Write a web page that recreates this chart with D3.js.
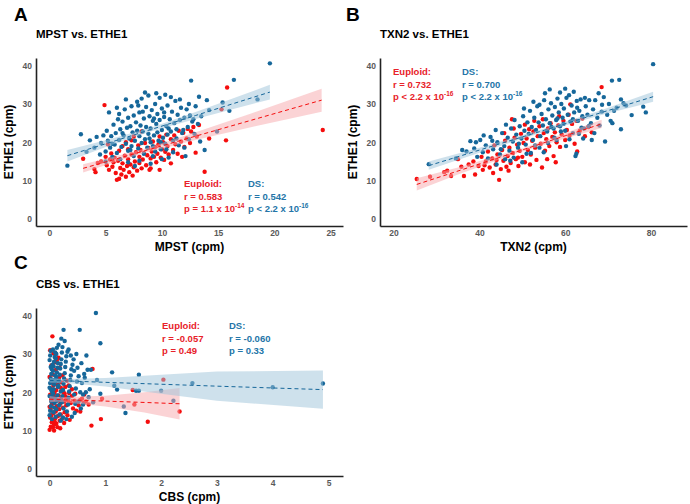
<!DOCTYPE html>
<html>
<head>
<meta charset="utf-8">
<script src="https://cdn.jsdelivr.net/npm/d3@7"></script>
<style>
  body { margin: 0; background: #fff; }
  svg text { font-family: "Liberation Sans", Arial, sans-serif; font-weight: 700; }
</style>
</head>
<body>
<div id="chart"></div>
<script>
// Data: [x, ETHE1] pairs per group
var mpstEuploid = [[3.0,15.7],[4.0,13.0],[4.1,12.2],[4.3,14.6],[4.6,15.0],[4.9,29.7],[5.0,16.2],[5.1,14.0],[5.3,12.8],[5.4,15.5],
  [5.5,17.1],[5.6,13.6],[5.7,14.8],[5.8,16.0],[5.9,12.0],[6.0,10.2],[6.1,15.2],[6.2,10.5],[6.2,17.8],[6.3,13.3],
  [6.4,11.6],[6.5,14.5],[6.5,19.0],[6.6,12.8],[6.7,16.5],[6.8,11.0],[6.9,13.8],[7.0,15.6],[7.0,18.2],[7.1,12.2],
  [7.2,14.2],[7.3,16.8],[7.3,20.5],[7.4,11.3],[7.5,13.5],[7.6,15.0],[7.7,17.4],[7.8,12.6],[7.9,19.2],[8.0,14.6],
  [8.0,16.2],[8.1,18.0],[8.2,13.2],[8.3,15.5],[8.4,17.2],[8.5,19.8],[8.6,14.0],[8.7,16.6],[8.8,18.5],[8.9,12.8],
  [9.0,13.2],[9.0,15.8],[9.1,17.6],[9.2,20.2],[9.3,16.2],[9.4,18.8],[9.5,14.8],[9.6,17.0],[9.7,19.5],[9.8,21.5],
  [9.9,16.0],[10.0,18.2],[10.1,20.0],[10.2,15.4],[10.3,17.5],[10.4,22.0],[10.5,19.0],[10.6,16.8],[10.8,20.8],[11.0,18.0],
  [11.1,21.8],[11.2,19.5],[11.4,17.0],[11.5,23.0],[11.7,20.2],[11.9,22.5],[12.0,18.8],[12.2,21.0],[12.3,23.5],[12.5,19.8],
  [12.6,22.8],[12.8,24.0],[13.0,17.3],[13.1,21.5],[13.3,24.5],[13.8,12.3],[14.2,21.0],[15.3,28.6],[15.7,20.5],[15.8,34.3],
  [24.3,23.2],[7.5,21.5],[8.2,22.8],[6.8,20.0],[9.8,12.8],[5.2,19.5],[10.8,14.5],[11.8,16.2]];

var mpstDS = [[1.6,13.9],[2.8,22.1],[3.3,17.5],[3.6,20.5],[4.0,18.6],[4.2,21.4],[4.5,16.8],[4.6,19.8],[4.8,21.8],[5.0,17.6],
  [5.1,23.0],[5.2,20.4],[5.3,27.8],[5.4,18.6],[5.5,21.6],[5.6,16.2],[5.7,24.6],[5.8,19.4],[5.9,22.4],[6.0,17.2],
  [6.1,26.0],[6.2,20.6],[6.3,23.4],[6.3,15.6],[6.4,18.8],[6.5,25.4],[6.6,21.8],[6.7,28.6],[6.8,19.6],[6.9,23.8],
  [7.0,17.8],[7.0,26.4],[7.1,21.0],[7.2,24.2],[7.3,29.4],[7.3,19.0],[7.4,22.6],[7.5,27.0],[7.5,16.4],[7.6,20.4],
  [7.7,25.2],[7.8,23.0],[7.8,30.6],[7.9,18.4],[8.0,21.6],[8.0,27.8],[8.1,24.4],[8.2,19.8],[8.2,31.4],[8.3,22.8],
  [8.4,26.2],[8.4,17.0],[8.5,20.8],[8.6,29.2],[8.6,24.0],[8.7,18.6],[8.8,22.2],[8.8,32.2],[8.9,26.8],[9.0,20.0],
  [9.0,23.6],[9.1,28.4],[9.2,19.0],[9.2,25.6],[9.3,21.8],[9.4,30.0],[9.4,17.6],[9.5,24.8],[9.6,22.6],[9.6,27.4],
  [9.7,20.4],[9.8,31.6],[9.8,25.8],[9.9,18.2],[10.0,23.2],[10.0,28.8],[10.1,21.2],[10.2,26.6],[10.3,19.6],[10.3,32.4],
  [10.4,24.2],[10.5,29.6],[10.5,22.0],[10.6,16.0],[10.7,26.0],[10.8,22.8],[10.9,28.0],[11.0,20.4],[11.1,25.0],[11.2,30.8],
  [11.3,23.4],[11.4,27.2],[11.5,19.2],[11.6,25.8],[11.7,29.0],[11.8,22.4],[12.0,26.4],[12.1,16.4],[12.2,28.6],[12.3,24.0],
  [12.4,20.8],[12.5,27.0],[12.6,36.1],[12.7,25.4],[12.9,22.2],[13.0,29.4],[13.3,31.9],[13.4,20.2],[13.5,26.8],[14.0,31.0],
  [14.2,28.4],[14.9,22.8],[15.4,30.4],[16.0,28.2],[16.4,36.3],[18.5,31.2],[19.6,40.6],[6.0,29.0],[7.0,14.8],[8.0,15.2],
  [9.0,14.4],[10.0,15.6],[11.0,17.4],[7.6,13.8],[5.0,15.0],[8.5,33.0],[9.5,32.8],[10.8,31.8],[6.8,31.2],[13.8,18.0],
  [12.0,18.6],[11.3,21.0],[10.4,18.2],[9.2,16.4],[7.2,18.0],[6.5,22.4],[5.6,19.6],[8.9,21.0],[9.9,20.0],[10.6,23.6],
  [11.9,23.2],[12.8,26.0],[13.2,24.8],[6.2,27.4],[7.9,29.6],[8.3,28.0],[9.3,26.2],[10.2,27.8],[11.6,31.2],[12.4,30.0]];

var txn2Euploid = [[25.4,10.4],[28.5,11.0],[31.8,12.2],[32.5,12.6],[33.4,11.2],[35.0,15.6],[35.8,13.6],[36.4,11.2],[37.5,14.2],[38.6,15.0],
  [39.0,11.6],[39.8,13.8],[40.5,16.2],[40.8,12.8],[41.5,15.0],[42.0,17.6],[42.4,13.4],[43.0,15.8],[43.5,19.2],[43.8,14.2],
  [44.2,16.8],[44.6,10.2],[45.0,13.0],[45.3,18.0],[45.6,15.2],[46.0,20.4],[46.3,13.6],[46.6,16.4],[47.0,18.6],[47.3,14.6],
  [47.6,26.0],[47.8,17.2],[48.2,21.2],[48.5,15.6],[48.8,19.4],[49.1,13.8],[49.4,17.8],[49.7,22.2],[50.0,16.2],[50.3,19.8],
  [50.6,14.8],[51.0,21.0],[51.3,18.0],[51.6,23.4],[52.0,16.8],[52.3,20.4],[52.6,22.8],[53.0,18.6],[53.3,15.4],[53.6,21.6],
  [54.0,24.2],[54.3,19.6],[54.6,13.4],[55.0,22.4],[55.3,17.8],[55.6,20.8],[56.0,23.6],[56.3,19.0],[56.6,25.0],[57.0,21.4],
  [57.3,16.4],[57.6,22.6],[58.0,20.0],[58.4,24.4],[58.8,18.8],[59.2,22.0],[59.6,25.6],[60.0,20.6],[60.4,23.2],[61.2,29.9],
  [61.0,21.8],[61.6,24.8],[62.2,19.6],[62.8,17.6],[63.4,23.0],[64.0,26.2],[64.6,21.6],[65.4,24.0],[66.2,22.6],[68.5,34.4],
  [44.0,15.4],[46.8,12.6],[49.0,16.0],[51.8,14.2],[55.8,15.6],[57.8,14.8],[52.8,25.6],[58.6,26.8],[48.0,23.6],[45.8,22.4],
  [43.2,12.0],[41.2,14.0],[50.6,24.6],[54.8,26.0],[60.8,27.2],[62.6,25.6]];

var txn2DS = [[28.2,14.3],[34.5,15.8],[37.0,17.6],[37.9,20.3],[38.8,18.4],[39.5,16.2],[40.2,20.6],[40.8,17.4],[41.5,19.2],[42.0,15.8],
  [42.6,21.4],[43.2,18.2],[43.8,23.2],[44.2,20.0],[44.8,16.8],[45.3,22.4],[45.8,19.0],[46.2,24.6],[46.6,21.2],[47.0,17.8],
  [47.4,23.6],[47.8,20.2],[48.2,25.8],[48.6,22.0],[49.0,18.6],[49.4,24.2],[49.8,21.0],[50.2,26.8],[50.5,23.0],[50.8,19.4],
  [51.2,25.2],[51.5,22.2],[51.8,28.2],[52.2,24.0],[52.5,20.6],[52.8,26.4],[53.2,23.2],[53.5,29.4],[53.8,25.2],[54.2,21.6],
  [54.5,27.4],[54.8,24.4],[55.1,31.0],[55.3,32.8],[55.5,26.0],[55.8,22.8],[56.1,28.6],[56.4,25.0],[56.7,30.2],[57.0,27.0],
  [57.3,23.6],[57.6,29.2],[57.9,25.8],[58.2,31.4],[58.5,27.8],[58.8,24.2],[59.1,30.0],[59.4,26.4],[59.7,28.8],[60.0,23.0],
  [60.3,31.6],[60.6,27.2],[60.9,32.3],[61.2,25.4],[61.5,29.6],[61.8,22.4],[62.1,27.8],[62.4,16.4],[62.7,30.8],[63.0,25.6],
  [63.3,28.2],[63.6,31.2],[64.0,26.8],[64.4,23.6],[64.8,29.4],[65.2,27.2],[65.6,31.0],[66.0,25.0],[66.5,28.6],[67.0,31.0],
  [67.5,26.4],[68.0,24.4],[68.5,28.0],[69.3,20.2],[69.8,27.2],[70.2,30.0],[70.6,25.6],[70.9,36.1],[71.4,28.2],[72.0,29.0],
  [72.6,36.3],[73.0,23.4],[73.6,30.2],[74.2,29.6],[75.5,27.1],[78.2,29.3],[78.8,27.8],[80.5,40.4],[44.0,14.2],[46.0,15.6],
  [48.0,16.0],[50.0,14.8],[52.0,17.2],[54.0,18.6],[56.0,19.8],[58.0,20.6],[60.2,19.0],[62.6,17.0],[64.2,21.0],[66.8,22.4],
  [55.0,17.4],[57.5,21.2],[59.0,22.8],[61.0,20.8],[63.8,23.8],[65.5,24.2],[53.0,19.2],[51.0,17.0],[49.2,19.6],[47.2,15.2],
  [43.0,20.4],[45.0,18.2],[41.0,21.8],[39.2,20.0],[36.0,18.0],[58.8,33.0],[62.0,33.2],[56.4,33.8],[60.0,34.0],[64.6,31.6],
  [67.8,32.8],[69.0,31.8],[71.0,25.0],[66.2,20.6],[68.6,29.8],[73.0,31.2],[62.8,29.0],[58.2,26.2],[54.0,29.8],[50.4,28.8],
  [52.6,30.6],[56.8,24.0],[59.6,24.8],[61.8,26.0],[63.2,22.2]];

var cbsEuploid = [[0.05,34.6],[0.77,26.1],[2.04,23.3],[1.49,20.6],[1.52,16.8],[0.94,18.3],[0.92,13.0],[0.75,11.3],[1.76,12.3],[2.33,15.0],
  [0.40,19.0],[0.61,17.2],[0.58,18.3],[0.0,10.2],[0.02,11.0],[0.04,12.2],[0.01,13.4],[0.03,14.0],[0.06,10.8],[0.08,11.6],
  [0.05,12.8],[0.10,13.2],[0.07,14.6],[0.02,15.4],[0.12,11.8],[0.09,12.4],[0.14,10.9],[0.0,16.2],[0.04,16.8],[0.06,17.4],
  [0.11,15.0],[0.15,13.8],[0.18,12.6],[0.03,18.2],[0.08,18.8],[0.13,16.4],[0.17,15.6],[0.20,14.2],[0.22,13.0],[0.01,19.4],
  [0.05,20.2],[0.09,19.8],[0.14,18.0],[0.19,17.0],[0.24,16.0],[0.27,14.8],[0.02,21.0],[0.07,21.8],[0.12,20.6],[0.16,19.2],
  [0.21,18.4],[0.26,17.6],[0.30,16.6],[0.04,22.6],[0.10,23.0],[0.15,22.0],[0.20,21.2],[0.25,20.0],[0.29,18.8],[0.33,17.8],
  [0.0,24.0],[0.06,24.6],[0.11,25.8],[0.17,23.8],[0.22,22.6],[0.28,21.4],[0.35,19.8],[0.38,17.2],[0.42,15.8],[0.45,17.8],
  [0.48,15.2],[0.52,16.6],[0.55,15.0],[0.65,17.6],[0.70,16.8],[0.32,14.0],[0.36,12.8],[0.26,12.0],[0.19,10.6],[0.08,10.0],
  [0.03,27.0],[0.13,28.4],[0.07,30.2],[0.18,26.4],[0.23,24.4],[0.31,23.0],[0.40,20.8],[0.46,19.6],[0.55,18.0],[0.62,19.4],
  [0.16,29.0],[0.01,31.0],[0.09,27.8],[0.27,19.6],[0.34,21.8]];

var cbsDS = [[0.83,40.7],[0.25,36.3],[0.54,36.3],[0.91,32.8],[0.48,30.0],[0.66,29.6],[0.68,25.9],[0.74,25.9],[1.12,25.2],[1.60,24.6],
  [0.85,23.2],[1.16,21.7],[1.21,20.7],[1.55,20.4],[1.60,20.4],[2.00,20.4],[2.56,22.4],[4.00,21.3],[4.90,22.3],[2.22,17.8],
  [1.33,16.3],[1.36,14.6],[0.91,19.6],[0.70,18.7],
  [0.0,14.0],[0.01,15.2],[0.02,16.4],[0.03,17.6],[0.04,18.8],[0.05,20.0],[0.0,21.2],[0.01,22.4],[0.02,23.6],[0.03,24.8],
  [0.04,26.0],[0.05,27.2],[0.0,28.4],[0.01,29.6],[0.02,30.8],[0.06,31.2],[0.07,14.8],[0.08,16.0],[0.09,17.2],[0.10,18.4],
  [0.06,19.6],[0.07,20.8],[0.08,22.0],[0.09,23.2],[0.10,24.4],[0.06,25.6],[0.07,26.8],[0.08,28.0],[0.09,29.2],[0.10,30.4],
  [0.11,13.6],[0.12,15.6],[0.13,17.8],[0.14,19.2],[0.15,21.4],[0.11,22.8],[0.12,24.0],[0.13,25.2],[0.14,26.4],[0.15,27.6],
  [0.11,28.8],[0.12,30.0],[0.13,31.6],[0.16,32.4],[0.18,14.2],[0.17,16.6],[0.19,18.0],[0.20,20.2],[0.16,21.8],[0.17,23.0],
  [0.18,24.6],[0.19,26.2],[0.20,27.4],[0.21,28.6],[0.22,30.4],[0.23,31.8],[0.24,13.4],[0.25,15.8],[0.22,17.4],[0.23,19.0],
  [0.24,20.6],[0.25,22.2],[0.26,23.6],[0.27,25.0],[0.28,26.6],[0.29,28.0],[0.30,29.4],[0.32,30.6],[0.31,15.0],[0.33,16.8],
  [0.34,18.6],[0.35,20.2],[0.36,21.6],[0.37,23.2],[0.38,24.4],[0.39,26.0],[0.41,27.2],[0.43,28.6],[0.45,14.6],[0.46,17.0],
  [0.44,19.4],[0.47,21.0],[0.49,22.8],[0.52,24.2],[0.55,20.0],[0.58,22.4],[0.60,19.4],[0.63,23.8],[0.52,17.6],[0.56,15.8],
  [0.60,16.8],[0.65,20.0],[0.72,20.8],[0.78,17.4],[0.40,13.6],[0.30,13.0],[0.20,12.6],[0.04,13.0],[0.0,19.0],[0.02,26.6],
  [0.34,31.2],[0.27,33.4],[0.21,34.0],[0.38,29.6],[0.44,25.6],[0.50,26.4],[0.57,27.6],[0.62,24.8],[0.03,20.6],[0.05,23.0]];

// Linear fits with 95% bands: [x, lower, fit, upper]
var fitMpstEuploid = [[3.0,12.1,13.2,14.3],[6,15.0,15.7,16.4],[8.5,17.2,17.8,18.4],[13,20.6,21.6,22.6],[18,24.0,25.8,27.6],[24.2,28.0,31.0,34.0]];
var fitMpstDS = [[1.6,15.0,16.5,18.0],[5,18.8,19.6,20.5],[9,22.8,23.3,23.8],[13,26.1,27.0,27.9],[19.6,31.2,33.1,35.0]];
var fitTxn2Euploid = [[25.4,7.4,9.0,10.6],[35,11.6,12.5,13.4],[50,17.6,18.0,18.4],[60,21.0,21.7,22.4],[68.5,23.7,24.8,25.9]];
var fitTxn2DS = [[28.2,12.8,13.9,15.0],[40,17.3,17.96,18.6],[56,23.05,23.45,23.85],[68,27.0,27.6,28.2],[80.5,30.6,31.9,33.2]];
var fitCbsEuploid = [[0,17.4,18.2,19.0],[0.15,17.5,18.1,18.7],[1,16.3,17.7,19.1],[1.7,14.7,17.35,20.0],[2.33,12.9,17.0,21.1]];
var fitCbsDS = [[0,22.5,23.1,23.7],[0.25,22.5,23.0,23.5],[1,21.5,22.6,23.7],[2,19.6,22.1,24.6],[3,17.8,21.6,25.4],[4.9,15.7,20.7,25.7]];

// Tick values and stats text
var yTicks = [0, 10, 20, 30, 40];
var mpstTicks = [0, 5, 10, 15, 20, 25];
var txn2Ticks = [20, 40, 60, 80];
var cbsTicks = [0, 1, 2, 3, 4, 5];
var statsEuploid = { A: ["r = 0.583", "p = 1.1 x 10", "-14"], B: ["r = 0.732", "p < 2.2 x 10", "-16"], C: ["r = -0.057", "p = 0.49", ""] };
var statsDS = { A: ["r = 0.542", "p < 2.2 x 10", "-16"], B: ["r = 0.700", "p < 2.2 x 10", "-16"], C: ["r = -0.060", "p = 0.33", ""] };

var red = "#f50d0d";
var blue = "#16679a";
var redText = "#e8222a";
var blueText = "#2475a8";

let svg = d3.select("#chart").append("svg")
  .attr("width", 690)
  .attr("height", 504);

function drawPanel(p) {
  let x = d3.scaleLinear().domain(p.xDomain).range([p.left, p.right]);
  let y = d3.scaleLinear().domain([-1.85, 42.0]).range([p.bottom, p.top]);
  let g = svg.append("g");

  // points, DS on top
  g.selectAll(".eu").data(p.eu).enter().append("circle")
    .attr("cx", d => x(d[0])).attr("cy", d => y(d[1])).attr("r", 2.2)
    .style("fill", red);
  g.selectAll(".ds").data(p.ds).enter().append("circle")
    .attr("cx", d => x(d[0])).attr("cy", d => y(d[1])).attr("r", 2.2)
    .style("fill", blue);

  // confidence bands and dashed fits
  [[p.fitEu, red, "#f7a8ab"], [p.fitDs, blue, "#9dc3da"]].forEach(function(f) {
    let area = d3.area().x(d => x(d[0])).y0(d => y(d[1])).y1(d => y(d[3]));
    g.append("path").attr("d", area(f[0]))
      .style("fill", f[2]).style("fill-opacity", 0.5);
    let line = d3.line().x(d => x(d[0])).y(d => y(d[2]));
    g.append("path").attr("d", line(f[0]))
      .style("fill", "none").style("stroke", f[1])
      .style("stroke-width", 1).style("stroke-dasharray", "4,3");
  });

  // axes
  let yAxis = d3.axisLeft(y).tickValues(yTicks).tickSize(0).tickPadding(4);
  let xAxis = d3.axisBottom(x).tickValues(p.xTicks).tickFormat(d3.format("d")).tickSize(0).tickPadding(4);
  let ya = g.append("g").attr("transform", "translate(" + p.left + ",0)").call(yAxis);
  let xa = g.append("g").attr("transform", "translate(0," + p.bottom + ")").call(xAxis);
  [ya, xa].forEach(function(a) {
    a.select(".domain").style("stroke", "#222").style("stroke-width", 1.6);
    a.selectAll("text").style("font-size", "8.5px").style("fill", "#5a5a5a")
      .style("font-family", "Liberation Sans, Arial, sans-serif").style("font-weight", 700);
  });

  // labels
  g.append("text").attr("x", p.letterX).attr("y", p.letterY).style("font-size", "19px").text(p.letter);
  g.append("text").attr("x", p.left).attr("y", p.titleY).style("font-size", "11.5px").text(p.title);
  g.append("text").attr("x", (p.left + p.right) / 2).attr("y", p.bottom + 25)
    .attr("text-anchor", "middle").style("font-size", "12px").text(p.xLabel);
  g.append("text")
    .attr("transform", "translate(" + (p.left - 23) + "," + ((p.top + p.bottom) / 2) + ") rotate(-90)")
    .attr("text-anchor", "middle").style("font-size", "12px").text("ETHE1 (cpm)");

  // stats
  [[statsEuploid[p.letter], "Euploid:", redText, p.statEuX], [statsDS[p.letter], "DS:", blueText, p.statDsX]].forEach(function(s) {
    let t = g.append("g").style("fill", s[2]).style("font-size", "9.5px");
    t.append("text").attr("x", s[3]).attr("y", p.statY).text(s[1]);
    t.append("text").attr("x", s[3]).attr("y", p.statY + 12.5).text(s[0][0]);
    let pt = t.append("text").attr("x", s[3]).attr("y", p.statY + 25).text(s[0][1]);
    if (s[0][2]) {
      pt.append("tspan").attr("dy", -4).style("font-size", "6.5px").text(s[0][2]);
    }
  });
}

drawPanel({ letter: "A", title: "MPST vs. ETHE1", xLabel: "MPST (cpm)",
  eu: mpstEuploid, ds: mpstDS, fitEu: fitMpstEuploid, fitDs: fitMpstDS,
  xDomain: [-1.19, 26.1], xTicks: mpstTicks,
  left: 36, right: 343, top: 58, bottom: 226,
  letterX: 14, letterY: 21, titleY: 38, statY: 187, statEuX: 184, statDsX: 248 });

drawPanel({ letter: "B", title: "TXN2 vs. ETHE1", xLabel: "TXN2 (cpm)",
  eu: txn2Euploid, ds: txn2DS, fitEu: fitTxn2Euploid, fitDs: fitTxn2DS,
  xDomain: [16.83, 88.4], xTicks: txn2Ticks,
  left: 380, right: 687, top: 58, bottom: 226,
  letterX: 346, letterY: 21, titleY: 38, statY: 75, statEuX: 393, statDsX: 462 });

drawPanel({ letter: "C", title: "CBS vs. ETHE1", xLabel: "CBS (cpm)",
  eu: cbsEuploid, ds: cbsDS, fitEu: fitCbsEuploid, fitDs: fitCbsDS,
  xDomain: [-0.244, 5.26], xTicks: cbsTicks,
  left: 36, right: 343, top: 308, bottom: 476,
  letterX: 14, letterY: 269, titleY: 288, statY: 329, statEuX: 162, statDsX: 229 });
</script>
</body>
</html>
